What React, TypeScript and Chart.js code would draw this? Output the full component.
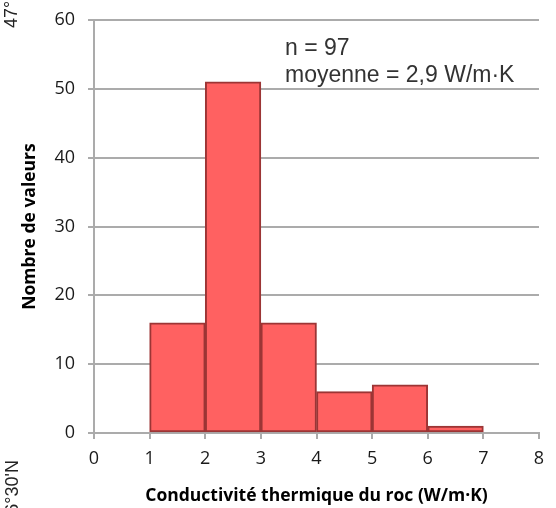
import React, { useEffect, useRef } from 'react';
import { Chart, registerables } from 'chart.js';

Chart.register(...registerables);

const binStarts = [1, 2, 3, 4, 5, 6];
const binWidth = 1;
const counts = [16, 51, 16, 6, 7, 1];
const xMin = 0;
const xMax = 8;
const yMin = 0;
const yMax = 60;
const yStep = 10;
const annotationLines = ['n = 97', 'moyenne = 2,9 W/m·K'];
const xTitle = 'Conductivité thermique du roc (W/m·K)';
const yTitle = 'Nombre de valeurs';
const edgeTop = '47°';
const edgeBottom = "46°30'N";

const overlayPlugin = {
  id: 'overlay',
  afterDraw(chart: any) {
    const ctx = chart.ctx as CanvasRenderingContext2D;
    const area = chart.chartArea;
    ctx.save();
    ctx.fillStyle = '#333333';
    ctx.font = '23px "Liberation Sans", Arial, sans-serif';
    ctx.textAlign = 'left';
    ctx.textBaseline = 'alphabetic';
    const tx = area.left + 191;
    ctx.fillText(annotationLines[0], tx, area.top + 35);
    ctx.fillText(annotationLines[1], tx, area.top + 62);

    ctx.fillStyle = '#222222';
    ctx.font = '18px "Liberation Sans", Arial, sans-serif';
    ctx.save();
    ctx.translate(17, 28);
    ctx.rotate(-Math.PI / 2);
    ctx.textAlign = 'left';
    ctx.fillText(edgeTop, 0, 0);
    ctx.restore();
    ctx.save();
    ctx.translate(18, 460);
    ctx.rotate(-Math.PI / 2);
    ctx.textAlign = 'right';
    ctx.fillText(edgeBottom, 0, 0);
    ctx.restore();
    ctx.restore();
  },
};

export default function App() {
  const ref = useRef<HTMLCanvasElement | null>(null);
  useEffect(() => {
    if (!ref.current) return;
    const data = counts.map((c, i) => ({ x: binStarts[i] + binWidth / 2, y: c }));
    const gridColor = '#ababab';
    const chart = new Chart(ref.current, {
      type: 'bar',
      data: {
        datasets: [
          {
            data: data as any,
            backgroundColor: '#ff6161',
            borderColor: '#9c3535',
            borderWidth: 2,
            borderSkipped: false,
            barPercentage: 1,
            categoryPercentage: 1,
          },
        ],
      },
      options: {
        animation: false,
        responsive: false,
        maintainAspectRatio: false,
        layout: { padding: { left: 0, top: 20, right: 17, bottom: 0 } },
        plugins: { legend: { display: false }, tooltip: { enabled: false } },
        scales: {
          x: {
            type: 'linear',
            min: xMin,
            max: xMax,
            offset: false,
            ticks: {
              stepSize: 1,
              padding: 9,
              color: '#1a1a1a',
              font: { family: '"Open Sans", sans-serif', size: 18 },
            },
            grid: {
              offset: false,
              drawOnChartArea: false,
              drawTicks: true,
              tickLength: 6,
              color: gridColor,
              lineWidth: 2,
            },
            border: { color: gridColor, width: 2 },
            title: {
              display: true,
              text: xTitle,
              color: '#000',
              font: { family: '"Open Sans", sans-serif', size: 17.5, weight: 'bold' },
              padding: { top: 0, bottom: 1 },
            },
            afterFit(scale: any) {
              scale.height = 75;
            },
          },
          y: {
            type: 'linear',
            min: yMin,
            max: yMax,
            ticks: {
              stepSize: yStep,
              padding: 13,
              color: '#1a1a1a',
              font: { family: '"Open Sans", sans-serif', size: 18 },
            },
            grid: {
              drawTicks: true,
              tickLength: 6,
              color: gridColor,
              lineWidth: 2,
            },
            border: { color: gridColor, width: 2 },
            title: {
              display: true,
              text: yTitle,
              color: '#000',
              font: { family: '"Open Sans", sans-serif', size: 17.5, weight: 'bold' },
              padding: { top: 20, bottom: 0 },
            },
            afterFit(scale: any) {
              scale.width = 94;
              scale.paddingTop = 0;
              scale.paddingBottom = 0;
            },
          },
        },
      },
      plugins: [overlayPlugin],
    });
    return () => chart.destroy();
  }, []);
  return (
    <div style={{ position: 'fixed', left: 0, top: 0, width: 556, height: 508, background: '#fff' }}>
      <canvas ref={ref} width={556} height={508} style={{ display: 'block', width: 556, height: 508 }} />
    </div>
  );
}
